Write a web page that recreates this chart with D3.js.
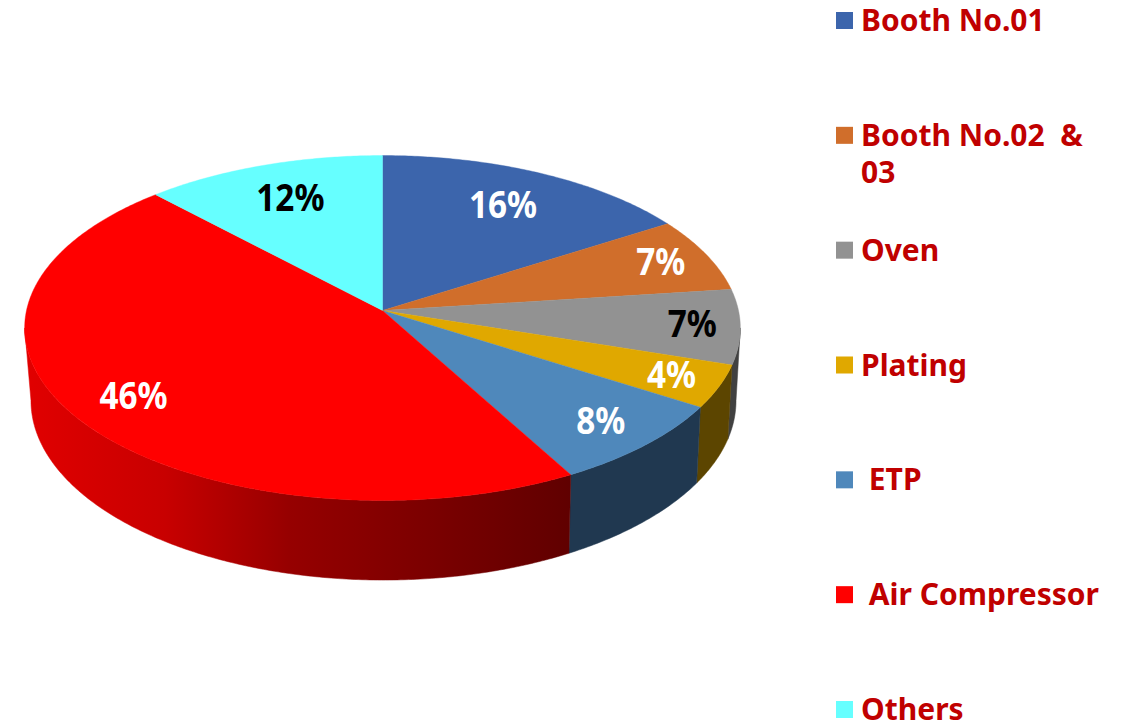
<!DOCTYPE html>
<html lang="en">
<head>
  <meta charset="UTF-8">
  <script src="https://d3js.org/d3.v7.min.js"></script>
  <style>
    body { margin: 0; background: #fff; }
    text { font-family: "Noto Sans", sans-serif; font-weight: 700; white-space: pre; }
  </style>
</head>
<body>
  <svg id="chart" width="1122" height="723"></svg>
  <script>
    var categories = ['Booth No.01', 'Booth No.02  &|03', 'Oven', 'Plating', ' ETP', ' Air Compressor', 'Others'];
    var shares = [16, 7, 7, 4, 8, 46, 12];
    var topColors = ['#3c65ac', '#d06e2b', '#929292', '#e0a800', '#4f88bb', '#ff0000', '#66ffff'];
    var wallColors = ['#1f3660', '#6b3a16', '#414141', '#5c4500', '#203850', 'url(#redWall)', '#2a7f7f'];
    var labelColors = ['#fff', '#fff', '#000', '#fff', '#fff', '#fff', '#000'];
    var labelRadius = [0.75, 0.855, 0.867, 0.864, 0.84, 0.822, 0.753];

    var svg = d3.select('#chart');

    // red wall gets darker towards the front right
    var grad = svg.append('defs').append('linearGradient')
      .attr('id', 'redWall').attr('gradientUnits', 'userSpaceOnUse')
      .attr('x1', 30).attr('x2', 570).attr('y1', 0).attr('y2', 0);
    [[0, '#e00000'], [0.25, '#c80000'], [0.48, '#960000'], [1, '#600000']].forEach(s => {
      grad.append('stop').attr('offset', s[0]).attr('stop-color', s[1]);
    });

    // fake 3d: a circle seen in perspective, far side is smaller
    var p = 0.1015;
    var scX = d3.scaleLinear().domain([-1, 1]).range([382.5 - 356, 382.5 + 356]);
    var scY = d3.scaleLinear().domain([-1, 1]).range([310.5 + 170.7, 310.5 - 170.7]);
    var scXBottom = d3.scaleLinear().domain([-1, 1]).range([383.5 - 350.7, 383.5 + 350.7]);
    var scYBottom = d3.scaleLinear().domain([-1, 1]).range([382.5 + 177.5, 382.5 - 177.5]);

    function project(a, r, sx, sy) {
      var x = r * Math.sin(a), y = r * Math.cos(a), w = 1 + p * y;
      return [sx(x / w), sy(y / w)];
    }
    function arcPoints(a0, a1, sx, sy) {
      var n = Math.max(2, Math.ceil((a1 - a0) / 0.01));
      return d3.range(n + 1).map(i => project(a0 + (a1 - a0) * i / n, 1, sx, sy));
    }

    var line = d3.line();
    var slices = d3.pie().sort(null)(shares);

    // side walls first, only between the two silhouette angles
    var wallFrom = 95.8 * Math.PI / 180, wallTo = 264.2 * Math.PI / 180;
    svg.append('g').selectAll('path')
      .data(slices.filter(d => d.endAngle > wallFrom && d.startAngle < wallTo))
      .enter().append('path')
      .attr('fill', d => wallColors[d.index])
      .attr('stroke', d => wallColors[d.index]).attr('stroke-width', 0.5)
      .attr('d', d => {
        var a0 = Math.max(d.startAngle, wallFrom), a1 = Math.min(d.endAngle, wallTo);
        var pts = arcPoints(a0, a1, scX, scY).concat(arcPoints(a0, a1, scXBottom, scYBottom).reverse());
        return line(pts) + 'Z';
      });

    svg.append('g').selectAll('path')
      .data(slices).enter().append('path')
      .attr('fill', d => topColors[d.index])
      .attr('stroke', d => topColors[d.index]).attr('stroke-width', 0.4)
      .attr('d', d => line([project(0, 0, scX, scY)].concat(arcPoints(d.startAngle, d.endAngle, scX, scY))) + 'Z');

    // labels squeezed a little, Noto is wider than the original face
    svg.append('g').selectAll('text')
      .data(slices).enter().append('text')
      .attr('text-anchor', 'middle').attr('font-size', 37).attr('dy', '0.33em')
      .attr('fill', d => labelColors[d.index])
      .attr('transform', d => {
        var c = project((d.startAngle + d.endAngle) / 2, labelRadius[d.index], scX, scY);
        return 'translate(' + c[0] + ',' + c[1] + ') scale(0.9,1)';
      })
      .text(d => d.value + '%');

    // legend
    var scLegend = d3.scalePoint().domain(categories).range([12, 701]);
    var legend = svg.append('g').selectAll('g')
      .data(categories).enter().append('g')
      .attr('transform', d => 'translate(836,' + scLegend(d) + ')');
    legend.append('rect').attr('width', 17).attr('height', 17)
      .attr('fill', (d, i) => topColors[i]);
    legend.append('text').attr('fill', '#c00000').attr('font-size', 30)
      .selectAll('tspan').data(d => d.split('|')).enter().append('tspan')
      .attr('x', 25).attr('y', (d, i) => 19 + i * 37)
      .text(d => d);
  </script>
</body>
</html>
